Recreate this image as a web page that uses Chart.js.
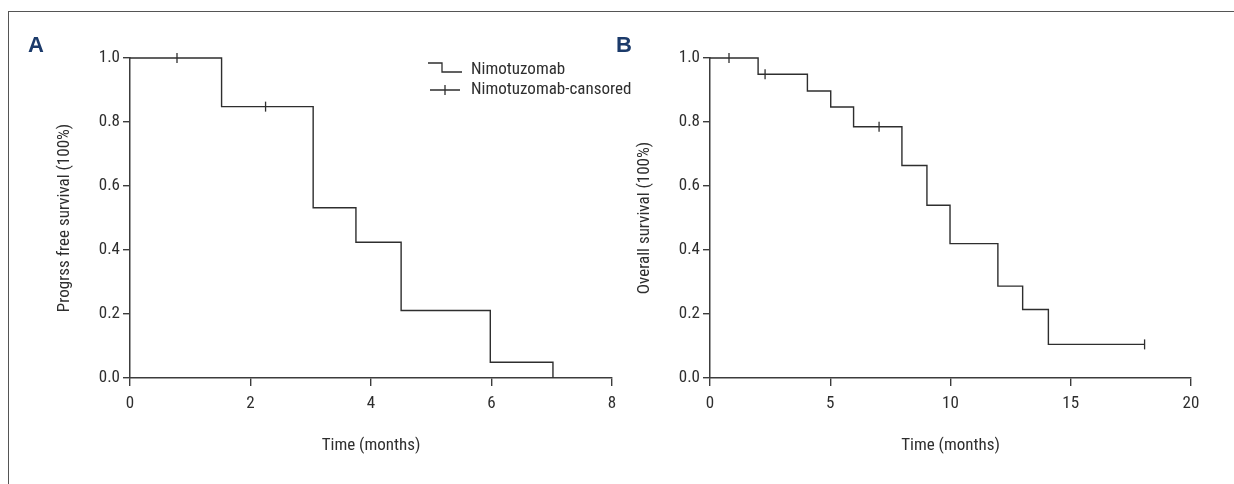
<!DOCTYPE html>
<html>
<head>
<meta charset="utf-8">
<script src="https://cdn.jsdelivr.net/npm/chart.js@4.4.1/dist/chart.umd.min.js"></script>
<style>
  body { margin: 0; background: #fff; width: 1234px; height: 484px; overflow: hidden; position: relative; }
  #frame { position: absolute; left: 8px; top: 11px; right: 0; bottom: -2px; border-top: 1px solid #555; border-left: 1px solid #555; }
  .wrap { position: absolute; top: 0; height: 484px; }
  #wrapA { left: 0; width: 700px; }
  #wrapB { left: 580px; width: 654px; }
  .tag { position: absolute; font: bold 22px/22px "Liberation Sans", Arial, sans-serif; color: #1b3a6a; }
</style>
</head>
<body>
<div id="frame"></div>
<div class="wrap" id="wrapA"><canvas id="chartA" width="700" height="484"></canvas></div>
<div class="wrap" id="wrapB"><canvas id="chartB" width="654" height="484"></canvas></div>
<div class="tag" style="left:28px;top:34px">A</div>
<div class="tag" style="left:616px;top:34px">B</div>
<script>
// Painel A - sobrevida livre de progressao
const pfsTimes = [0, 1.52, 3.04, 3.75, 4.5, 5.98, 7.02];
const pfsSurvival = [1.0, 0.848, 0.532, 0.424, 0.211, 0.049, 0.0];
const pfsCensorTimes = [0.78, 2.25];
const pfsCensorSurvival = [1.0, 0.848];
const pfsXTicks = [0, 2, 4, 6, 8];

// Painel B - sobrevida global
const osTimes = [0, 2.0, 4.05, 5.02, 5.97, 7.98, 9.02, 9.98, 11.97, 13.0, 14.07, 18.07];
const osSurvival = [1.0, 0.949, 0.897, 0.847, 0.785, 0.664, 0.54, 0.42, 0.287, 0.214, 0.105, 0.105];
const osCensorTimes = [0.79, 2.29, 7.03, 18.07];
const osCensorSurvival = [1.0, 0.949, 0.785, 0.105];
const osXTicks = [0, 5, 10, 15, 20];

const yTicks = [0.0, 0.2, 0.4, 0.6, 0.8, 1.0];
const seriesLabels = ['Nimotuzomab', 'Nimotuzomab-cansored'];

const ink = '#2e2e2e';
const axisInk = '#3c3c3c';
const fontFamily = '"Roboto Condensed", "Open Sans Condensed", "Liberation Sans Narrow", sans-serif';
const fontSize = 17;

Chart.defaults.font.family = fontFamily;
Chart.defaults.font.size = fontSize;
Chart.defaults.color = ink;

function toPoints(xs, ys) {
    return xs.map((x, i) => ({ x: x, y: ys[i] }));
}

// legenda desenhada a mao (simbolo de degrau + marca de censura)
const kmLegend = {
    id: 'kmLegend',
    afterDraw(chart, args, opts) {
        if (!opts.show) return;
        const ctx = chart.ctx;
        const area = chart.chartArea;
        const x0 = area.left + 298;
        const y0 = area.top + 5;
        ctx.save();
        ctx.strokeStyle = ink;
        ctx.lineWidth = 1.3;
        ctx.beginPath();
        ctx.moveTo(x0, y0);
        ctx.lineTo(x0 + 14, y0);
        ctx.lineTo(x0 + 14, y0 + 9);
        ctx.lineTo(x0 + 34, y0 + 9);
        ctx.moveTo(x0 + 2, y0 + 27);
        ctx.lineTo(x0 + 32, y0 + 27);
        ctx.moveTo(x0 + 17, y0 + 22);
        ctx.lineTo(x0 + 17, y0 + 32);
        ctx.stroke();
        ctx.fillStyle = ink;
        ctx.font = fontSize + 'px ' + fontFamily;
        ctx.textBaseline = 'alphabetic';
        ctx.fillText(seriesLabels[0], x0 + 43, y0 + 11);
        ctx.fillText(seriesLabels[1], x0 + 43, y0 + 31);
        ctx.restore();
    }
};

function buildChart(canvasId, times, surv, cTimes, cSurv, xTicks, xMax, yTitle, padRight, showLegend) {
    return new Chart(document.getElementById(canvasId), {
        type: 'scatter',
        data: {
            datasets: [{
                label: seriesLabels[0],
                data: toPoints(times, surv),
                showLine: true,
                stepped: 'before',
                borderColor: ink,
                borderWidth: 1.4,
                pointRadius: 0,
                clip: false
            }, {
                label: seriesLabels[1],
                data: toPoints(cTimes, cSurv),
                showLine: false,
                pointStyle: 'line',
                rotation: 90,
                pointRadius: 5,
                borderColor: ink,
                borderWidth: 1.3,
                clip: false
            }]
        },
        options: {
            responsive: false,
            animation: false,
            devicePixelRatio: 1,
            layout: { padding: { left: 0, right: padRight, top: 58, bottom: 0 } },
            plugins: {
                legend: { display: false },
                tooltip: { enabled: false },
                kmLegend: { show: showLegend }
            },
            scales: {
                x: {
                    type: 'linear',
                    min: 0,
                    max: xMax,
                    afterBuildTicks: s => { s.ticks = xTicks.map(v => ({ value: v })); },
                    afterFit: s => { s.height = 106; },
                    ticks: { padding: 8, color: ink, callback: v => String(v) },
                    grid: { drawOnChartArea: false, tickLength: 8, color: axisInk, lineWidth: 1.4 },
                    border: { display: true, color: axisInk, width: 1.5 },
                    title: { display: true, text: 'Time (months)', color: ink, padding: { bottom: 28 } }
                },
                y: {
                    min: 0,
                    max: 1,
                    afterBuildTicks: s => { s.ticks = yTicks.map(v => ({ value: v })); },
                    afterFit: s => { s.width = 130; },
                    ticks: { padding: 3, color: ink, callback: v => v.toFixed(1) },
                    grid: { drawOnChartArea: false, tickLength: 7, color: axisInk, lineWidth: 1.4 },
                    border: { display: true, color: axisInk, width: 1.5 },
                    title: { display: true, text: yTitle, color: ink, padding: { top: 55 } }
                }
            }
        },
        plugins: [kmLegend]
    });
}

buildChart('chartA', pfsTimes, pfsSurvival, pfsCensorTimes, pfsCensorSurvival, pfsXTicks, 8,
    'Progrss free survival (100%)', 88, true);
buildChart('chartB', osTimes, osSurvival, osCensorTimes, osCensorSurvival, osXTicks, 20,
    'Overall survival (100%)', 43, false);
</script>
</body>
</html>
